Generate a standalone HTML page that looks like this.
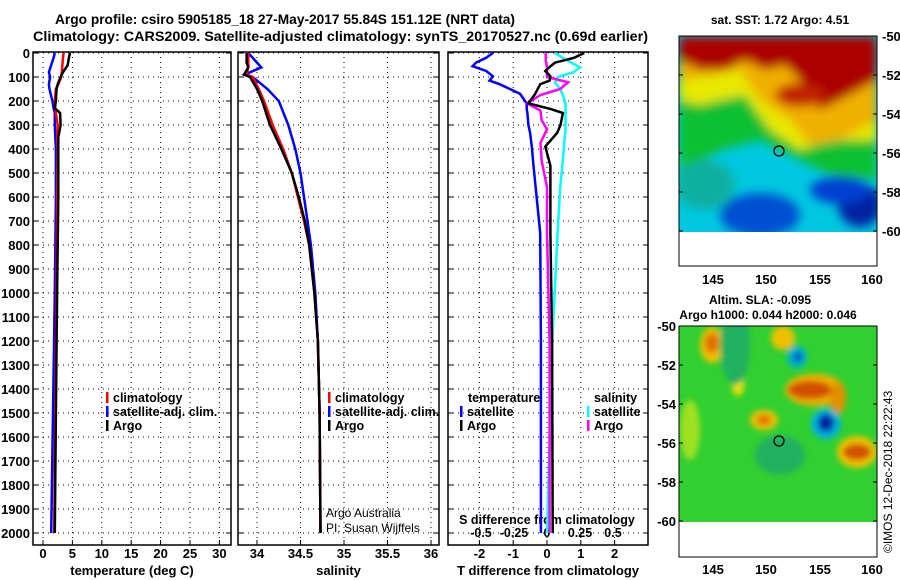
<!DOCTYPE html>
<html><head><meta charset="utf-8"><style>
body{margin:0;background:#fff;}
svg{display:block;font-family:"Liberation Sans",sans-serif;font-weight:bold;}
</style></head><body>
<svg id="chart" width="900" height="580" viewBox="0 0 900 580">
<defs>
<filter id="bl" x="-20%" y="-20%" width="140%" height="140%"><feGaussianBlur stdDeviation="5"/></filter>
<filter id="bl2" x="-20%" y="-20%" width="140%" height="140%"><feGaussianBlur stdDeviation="3"/></filter>
<clipPath id="c1"><rect x="679" y="36" width="198" height="196"/></clipPath>
<clipPath id="c2"><rect x="679" y="326" width="198" height="196"/></clipPath>
</defs>
<text x="55" y="24" font-size="14" textLength="460" lengthAdjust="spacingAndGlyphs">Argo profile: csiro 5905185_18 27-May-2017 55.84S 151.12E (NRT data)</text>
<text x="33" y="41" font-size="14" textLength="615" lengthAdjust="spacingAndGlyphs">Climatology: CARS2009. Satellite-adjusted climatology: synTS_20170527.nc (0.69d earlier)</text>
<g id="panels"></g>
<g>
<text x="780" y="24" font-size="12" text-anchor="middle">sat. SST: 1.72 Argo: 4.51</text>
<g clip-path="url(#c1)">
<rect x="679" y="36" width="198" height="196" fill="#00c8e0"/>
<g filter="url(#bl)">
<path d="M679,175 L720,150 L760,140 L800,160 L830,175 L877,180 L877,36 L679,36Z" fill="#10c030"/>
<path d="M679,100 L700,105 L720,100 L745,95 L770,130 L800,150 L830,140 L877,140 L877,36 L679,36Z" fill="#e8e800"/>
<path d="M679,80 L715,75 L740,70 L760,100 L790,120 L810,145 L840,140 L877,120 L877,36 L679,36Z" fill="#f0b000"/>
<path d="M679,60 L700,70 L725,70 L745,60 L765,70 L785,65 L800,80 L820,110 L840,100 L877,80 L877,36 L679,36Z" fill="#aa0000"/>
<ellipse cx="800" cy="95" rx="25" ry="12" fill="#c02000"/>
<ellipse cx="760" cy="215" rx="40" ry="22" fill="#0050d0"/>
<ellipse cx="860" cy="205" rx="22" ry="22" fill="#0020a0"/>
<ellipse cx="840" cy="190" rx="30" ry="14" fill="#0040d0"/>
<ellipse cx="705" cy="185" rx="30" ry="25" fill="#10b0a0"/>
</g>
</g>
<rect x="679" y="232" width="198" height="34" fill="#fff"/>
<rect x="679" y="36" width="198" height="230" fill="none" stroke="#000"/>
<circle cx="779" cy="151" r="5" fill="none" stroke="#000" stroke-width="1.3"/>
</g>
<g>
<text x="760" y="304" font-size="12" text-anchor="middle">Altim. SLA: -0.095</text>
<text x="768" y="319" font-size="12" text-anchor="middle">Argo h1000: 0.044 h2000: 0.046</text>
<g clip-path="url(#c2)">
<rect x="679" y="326" width="198" height="196" fill="#30d030"/>
<g filter="url(#bl2)">
<ellipse cx="712" cy="345" rx="12" ry="18" fill="#f0c000"/><ellipse cx="712" cy="343" rx="7" ry="10" fill="#e07000"/>
<ellipse cx="783" cy="338" rx="12" ry="12" fill="#f0c000"/>
<ellipse cx="797" cy="357" rx="10" ry="11" fill="#00b0d0"/><ellipse cx="798" cy="357" rx="4" ry="5" fill="#0040c0"/>
<ellipse cx="815" cy="390" rx="30" ry="16" fill="#f0b000"/><ellipse cx="810" cy="390" rx="22" ry="9" fill="#d05000"/>
<ellipse cx="838" cy="398" rx="8" ry="16" fill="#e09000"/>
<ellipse cx="826" cy="424" rx="15" ry="15" fill="#00b0e0"/><ellipse cx="826" cy="423" rx="8" ry="9" fill="#0020a0"/>
<ellipse cx="764" cy="420" rx="14" ry="10" fill="#f0c000"/><ellipse cx="764" cy="420" rx="7" ry="5" fill="#e07000"/>
<ellipse cx="857" cy="452" rx="20" ry="16" fill="#f0c000"/><ellipse cx="857" cy="452" rx="14" ry="8" fill="#d05000"/>
<ellipse cx="738" cy="385" rx="6" ry="11" fill="#f0e000"/>
<ellipse cx="735" cy="345" rx="15" ry="40" fill="#20b060"/>
<ellipse cx="780" cy="455" rx="25" ry="20" fill="#20b060"/>
<ellipse cx="690" cy="430" rx="10" ry="30" fill="#a0e020"/>
</g>
</g>
<rect x="679" y="522" width="198" height="35" fill="#fff"/>
<rect x="679" y="326" width="198" height="231" fill="none" stroke="#000"/>
<circle cx="779" cy="441" r="5" fill="none" stroke="#000" stroke-width="1.3"/>
<text x="713" y="574" font-size="13" text-anchor="middle">145</text>
<text x="766" y="574" font-size="13" text-anchor="middle">150</text>
<text x="820" y="574" font-size="13" text-anchor="middle">155</text>
<text x="872" y="574" font-size="13" text-anchor="middle">160</text>
</g>
<g id="maplabels"></g>
<text transform="translate(892,553) rotate(-90)" font-size="12" font-weight="normal">©IMOS 12-Dec-2018 22:22:43</text>
</svg>
<script>
// ---- data ----
const depthTicks=[0,100,200,300,400,500,600,700,800,900,1000,1100,1200,1300,1400,1500,1600,1700,1800,1900,2000];
const tempTicks=[0,5,10,15,20,25,30];
const salTicks=[34,34.5,35,35.5,36];
const salTickLabels=["34","34.5","35","35.5","36"];
const tdTicks=[-2,-1,0,1,2];
const sdTicks=[-0.5,-0.25,0,0.25,0.5];
const sdTickLabels=["-0.5","-0.25","0","0.25","0.5"];
const tempDepth=[0,20,50,80,100,130,150,200,230,250,300,350,400,600,1000,1500,2000];
const tempArgo=[4.6,4.4,4.2,3.4,3.0,2.5,2.3,2.2,2.0,2.9,3.0,2.6,2.6,2.6,2.4,2.2,2.0];
const tempClim=[3.5,3.4,3.3,3.2,3.1,2.6,2.2,2.0,2.1,2.2,2.5,2.4,2.5,2.4,2.3,2.1,1.9];
const tempSat=[2.0,1.8,1.4,1.0,1.2,1.0,1.1,1.6,1.8,2.0,2.0,2.1,2.2,2.2,2.0,1.7,1.4];
const salDepth=[0,40,60,90,100,150,200,300,400,500,600,700,800,1000,1200,1500,2000];
const salArgo=[33.88,33.88,33.9,33.85,33.92,34.0,34.06,34.15,34.28,34.4,34.48,34.55,34.6,34.66,34.7,34.72,34.73];
const salClim=[33.9,33.9,33.9,33.88,33.95,34.02,34.08,34.18,34.3,34.4,34.47,34.54,34.6,34.66,34.7,34.72,34.73];
const salSat=[33.9,34.0,34.05,33.86,33.95,34.12,34.25,34.36,34.44,34.5,34.54,34.58,34.62,34.67,34.7,34.72,34.73];
const tdDepth=[0,20,40,55,75,97,115,130,170,210,233,250,300,333,390,470,750,1200,2000];
const tdSat=[-1.6,-1.8,-2.1,-2.2,-1.8,-1.6,-1.7,-1.4,-0.8,-0.6,-0.6,-0.58,-0.55,-0.5,-0.45,-0.4,-0.2,-0.18,-0.18];
const tdArgo=[1.1,0.8,0.24,0.1,-0.05,0.1,0.08,-0.2,-0.35,-0.55,0.1,0.47,0.4,0.3,-0.05,0.1,0.1,0.15,0.17];
const sdDepth=[0,30,60,80,100,122,150,175,210,240,280,318,375,450,560,750,1200,2000];
const sdSat=[0.06,0.15,0.25,0.2,0.08,0.06,0.1,0.12,0.14,0.14,0.14,0.14,0.13,0.12,0.1,0.08,0.04,0.0];
const sdArgo=[-0.01,-0.01,0.0,0.0,0.0,0.16,0.1,-0.05,-0.15,-0.05,-0.04,0.0,-0.05,-0.04,0.0,0.0,0.02,0.02];
// ---- layout ----
const NS="http://www.w3.org/2000/svg";
const G=document.getElementById('panels');
const yTop=52,yBot=545;
const yD=d=>53+d*0.24;
function mk(tag,at,parent){const e=document.createElementNS(NS,tag);for(const k in at)e.setAttribute(k,at[k]);(parent||G).appendChild(e);return e;}
function txt(x,y,s,size,anchor,parent,w){const t=mk('text',{x:x,y:y,'font-size':size,'text-anchor':anchor||'start'},parent);if(w)t.setAttribute('font-weight',w);t.textContent=s;return t;}
function panel(name,x0,x1,ticks,xf,labels,xlabel){
  const g=mk('g',{});
  
  
  depthTicks.forEach(d=>{const l=mk('line',{x1:x0,x2:x1,y1:yD(d),y2:yD(d),stroke:'#000','stroke-dasharray':'1 4','stroke-width':1},g);
    
    mk('line',{x1:x0,x2:x0+5,y1:yD(d),y2:yD(d),stroke:'#000'},g);mk('line',{x1:x1-5,x2:x1,y1:yD(d),y2:yD(d),stroke:'#000'},g);});
  ticks.forEach((v,i)=>{const x=xf(v);const l=mk('line',{x1:x,x2:x,y1:yTop,y2:yBot,stroke:'#000','stroke-dasharray':'1 4'},g);
    
    mk('line',{x1:x,x2:x,y1:yBot-5,y2:yBot,stroke:'#000'},g);
    if(labels){const t=txt(x,558,labels[i],13,'middle',g);}});
  const r=mk('rect',{x:x0,y:yTop,width:x1-x0,height:yBot-yTop,fill:'none',stroke:'#000','stroke-width':1.5},g);
  
  const t=txt((x0+x1)/2,575,xlabel,13,'middle',g);
  return g;
}
function line(g,xs,ds,xf,col,name){const p=xs.map((v,i)=>xf(v).toFixed(1)+','+yD(ds[i]).toFixed(1)).join(' ');
  const e=mk('polyline',{points:p,fill:'none',stroke:col,'stroke-width':2.5},g);
  }
function leg(g,x,y,col,s){mk('rect',{x:x,y:y-10,width:2.5,height:11,fill:col},g);const t=txt(x+7,y,s,12.5,'start',g);}
// depth labels
depthTicks.forEach(d=>{const t=txt(30,yD(d)+5,String(d),13,'end');});
// panel 1
const xT=v=>43+v*5.88;
const p1=panel('temperature-panel',33,231,tempTicks,xT,tempTicks.map(String),'temperature (deg C)');
line(p1,tempSat,tempDepth,xT,'#0000ff','series-satellite-temp');
line(p1,tempClim,tempDepth,xT,'#ff0000','series-climatology-temp');
line(p1,tempArgo,tempDepth,xT,'#000','series-argo-temp');
leg(p1,106,402,'#ff0000','climatology');leg(p1,106,416,'#0000ff','satellite-adj. clim.');leg(p1,106,430,'#000','Argo');
// panel 2
const xS=v=>257+(v-34)*87;
const p2=panel('salinity-panel',238,439,salTicks,xS,salTickLabels,'salinity');
line(p2,salSat,salDepth,xS,'#0000ff','series-satellite-sal');
line(p2,salClim,salDepth,xS,'#ff0000','series-climatology-sal');
line(p2,salArgo,salDepth,xS,'#000','series-argo-sal');
leg(p2,328,402,'#ff0000','climatology');leg(p2,328,416,'#0000ff','satellite-adj. clim.');leg(p2,328,430,'#000','Argo');
[['Argo Australia',517],['PI: Susan Wijffels',532]].forEach(a=>{const t=txt(326,a[1],a[0],12,'start',p2,'normal');});
// panel 3
const xTD=v=>547+v*33.8;
const xSD=v=>547+v*132;
const p3=panel('difference-panel',448,648,tdTicks,xTD,tdTicks.map(String),'T difference from climatology');
sdTicks.forEach((v,i)=>{const t=txt(xSD(v),537,sdTickLabels[i],12.5,'middle',p3);});
{const t=txt(547,524,'S difference from climatology',12.5,'middle',p3);}
line(p3,tdSat,tdDepth,xTD,'#0000ff','series-satellite-tdiff');
line(p3,sdSat,sdDepth,xSD,'#00ffff','series-satellite-sdiff');
line(p3,sdArgo,sdDepth,xSD,'#ff00ff','series-argo-sdiff');
line(p3,tdArgo,tdDepth,xTD,'#000','series-argo-tdiff');
{const t=txt(468,402,'temperature',12.5,'start',p3);}
{const t=txt(594,402,'salinity',12.5,'start',p3);}
leg(p3,460,416,'#0000ff','satellite');leg(p3,460,430,'#000','Argo');
leg(p3,587,416,'#00ffff','satellite');leg(p3,587,430,'#ff00ff','Argo');
// map labels
const ML=document.getElementById('maplabels');
const latTicks=[-50,-52,-54,-56,-58,-60];
[[36,882,'start'],[326,676,'end']].forEach(m=>{latTicks.forEach((la,i)=>{const y=m[0]+i*39;const t=txt(m[1],y+5,String(la),13,m[2],ML);
  mk('line',{x1:877,x2:873,y1:y,y2:y,stroke:'#000'},ML);mk('line',{x1:679,x2:683,y1:y,y2:y,stroke:'#000'},ML);});});
[713,766,820,872].forEach((x,i)=>{const t=txt(x,284,['145','150','155','160'][i],13,'middle',ML);});
</script>
</body></html>
